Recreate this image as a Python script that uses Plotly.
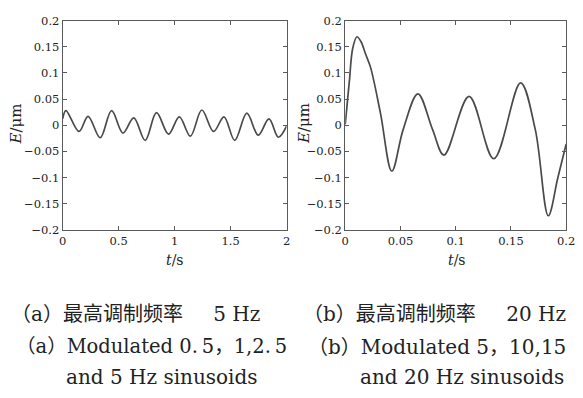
import plotly.graph_objects as go

# ---- data ----
t_a = [0, 0.029, 0.146, 0.227, 0.335, 0.437, 0.539, 0.635, 0.737, 0.838, 0.946,
       1.042, 1.141, 1.243, 1.348, 1.441, 1.537, 1.645, 1.747, 1.843, 1.927, 2.0]
E_a = [0.012, 0.028, -0.012, 0.017, -0.024, 0.028, -0.015, 0.014, -0.029, 0.024, -0.017,
       0.016, -0.021, 0.029, -0.012, 0.016, -0.029, 0.023, -0.019, 0.012, -0.023, -0.002]

t_b = [0, 0.0038, 0.0068, 0.0106, 0.0142, 0.0186, 0.023, 0.0319, 0.0422, 0.0525,
       0.0658, 0.079, 0.0894, 0.1121, 0.1345, 0.1587, 0.172, 0.1838, 0.1925, 0.2]
E_b = [0.0015, 0.085, 0.147, 0.169, 0.160, 0.135, 0.110, 0.023, -0.088, -0.008,
       0.060, -0.008, -0.057, 0.055, -0.064, 0.081, -0.008, -0.173, -0.100, -0.036]

y_ticks = [-0.2, -0.15, -0.1, -0.05, 0, 0.05, 0.1, 0.15, 0.2]
y_labels = ["\u22120.2", "\u22120.15", "\u22120.1", "\u22120.05", "0", "0.05", "0.1", "0.15", "0.2"]
xa_ticks = [0, 0.5, 1, 1.5, 2]
xa_labels = ["0", "0.5", "1", "1.5", "2"]
xb_ticks = [0, 0.05, 0.1, 0.15, 0.2]
xb_labels = ["0", "0.05", "0.1", "0.15", "0.2"]

y_title = "<i>E</i>/\u03bcm"
x_title = "<i>t</i>/s"
captions_a = ["\uff08a\uff09最高调制频率\u3000\u2009 5 Hz",
              "\uff08a\uff09Modulated 0.\u20095\uff0c1,2.\u20095",
              "and 5 Hz sinusoids"]
captions_b = ["\uff08b\uff09最高调制频率\u3000\u2009 20 Hz",
              "\uff08b\uff09Modulated 5\uff0c10,15",
              "and 20 Hz sinusoids"]

# ---- layout helpers ----
W, H = 583, 398
def px(x):
    return x / W
def py(y):
    return 1 - y / H

LINE_COL = "#4a4a4a"
AX_COL = "#5a5a5a"
TXT_COL = "#222222"
SERIF = "DejaVu Serif, Noto Sans CJK SC, serif"

fig = go.Figure()
fig.add_trace(go.Scatter(x=t_a, y=E_a, mode="lines", xaxis="x", yaxis="y",
                         line=dict(color=LINE_COL, width=1.7, shape="spline", smoothing=1.0),
                         showlegend=False, hoverinfo="skip"))
fig.add_trace(go.Scatter(x=t_b, y=E_b, mode="lines", xaxis="x2", yaxis="y2",
                         line=dict(color=LINE_COL, width=1.7, shape="spline", smoothing=1.0),
                         showlegend=False, hoverinfo="skip"))

axis_common = dict(showline=True, linecolor=AX_COL, linewidth=1, mirror="ticks",
                   ticks="inside", ticklen=4, tickwidth=1, tickcolor=AX_COL,
                   showgrid=False, zeroline=False,
                   tickfont=dict(family=SERIF, size=11.5, color=TXT_COL))

fig.update_layout(
    width=W, height=H,
    margin=dict(l=0, r=0, t=0, b=0),
    paper_bgcolor="white", plot_bgcolor="white",
    xaxis=dict(domain=[px(60), px(289)], range=[0, 2], tickvals=xa_ticks, ticktext=xa_labels,
               anchor="y", **axis_common),
    yaxis=dict(domain=[py(231), py(14)], range=[-0.2, 0.2], tickvals=y_ticks, ticktext=y_labels,
               anchor="x", **axis_common),
    xaxis2=dict(domain=[px(349), px(575)], range=[0, 0.2], tickvals=xb_ticks, ticktext=xb_labels,
                anchor="y2", **axis_common),
    yaxis2=dict(domain=[py(231), py(14)], range=[-0.2, 0.2], tickvals=y_ticks, ticktext=y_labels,
                anchor="x2", **axis_common),
)

ann = []
# axis titles
for xc in (12, 307):
    ann.append(dict(x=px(xc), y=py(121), xref="paper", yref="paper", text=y_title,
                    showarrow=False, textangle=-90, xanchor="center", yanchor="middle",
                    font=dict(family=SERIF, size=15, color=TXT_COL)))
for xc in (175, 463):
    ann.append(dict(x=px(xc), y=py(262), xref="paper", yref="paper", text=x_title,
                    showarrow=False, xanchor="center", yanchor="middle",
                    font=dict(family=SERIF, size=14, color=TXT_COL)))
# captions
cap_y = [318, 352, 383]
cap_xa = [5, 10, 61]
cap_xb = [304, 309, 362]
cap_size_a = [20, 19.5, 20]
cap_size_b = [20, 20, 20]
for i in range(3):
    ann.append(dict(x=px(cap_xa[i]), y=py(cap_y[i]), xref="paper", yref="paper",
                    text=captions_a[i], showarrow=False, xanchor="left", yanchor="middle",
                    font=dict(family=SERIF, size=cap_size_a[i], color=TXT_COL)))
    ann.append(dict(x=px(cap_xb[i]), y=py(cap_y[i]), xref="paper", yref="paper",
                    text=captions_b[i], showarrow=False, xanchor="left", yanchor="middle",
                    font=dict(family=SERIF, size=cap_size_b[i], color=TXT_COL)))
fig.update_layout(annotations=ann)

fig.write_html("out.html", config={"displayModeBar": False},
               post_script="document.body.style.margin='0';")
